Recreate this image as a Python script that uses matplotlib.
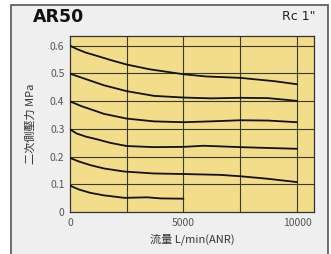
import matplotlib
matplotlib.use("Agg")
import matplotlib.pyplot as plt
from matplotlib.patches import Rectangle

plt.rcParams['font.family'] = ['Noto Sans CJK JP', 'DejaVu Sans']

flow_06 = [0, 300, 700, 1200, 1800, 2500, 3500, 5000, 6000, 7500, 9000, 10000]
pres_06 = [0.600, 0.588, 0.575, 0.563, 0.548, 0.532, 0.515, 0.497, 0.489, 0.484, 0.472, 0.461]
flow_05 = [0, 500, 1000, 1500, 2500, 3700, 5000, 6200, 7500, 8700, 10000]
pres_05 = [0.499, 0.485, 0.471, 0.457, 0.436, 0.419, 0.413, 0.410, 0.412, 0.411, 0.401]
flow_04 = [0, 500, 1000, 1500, 2500, 3700, 5000, 6200, 7500, 8700, 10000]
pres_04 = [0.399, 0.382, 0.368, 0.354, 0.337, 0.327, 0.324, 0.327, 0.331, 0.330, 0.324]
flow_03 = [0, 300, 700, 1200, 1800, 2500, 3700, 5000, 5900, 7500, 10000]
pres_03 = [0.298, 0.283, 0.272, 0.262, 0.249, 0.238, 0.234, 0.235, 0.239, 0.234, 0.228]
flow_02 = [0, 400, 900, 1500, 2400, 3700, 5000, 6600, 7500, 8700, 10000]
pres_02 = [0.195, 0.182, 0.169, 0.157, 0.146, 0.139, 0.137, 0.134, 0.129, 0.120, 0.108]
flow_01 = [0, 400, 900, 1500, 2400, 3400, 4000, 5000]
pres_01 = [0.095, 0.081, 0.069, 0.060, 0.051, 0.053, 0.049, 0.048]

series = [(flow_06, pres_06), (flow_05, pres_05), (flow_04, pres_04),
          (flow_03, pres_03), (flow_02, pres_02), (flow_01, pres_01)]

x_ticks = [0, 5000, 10000]
y_ticks = [0, 0.1, 0.2, 0.3, 0.4, 0.5, 0.6]
y_tick_labels = ['0', '0.1', '0.2', '0.3', '0.4', '0.5', '0.6']

fig = plt.figure(figsize=(3.31, 2.54), dpi=100)
fig.patch.set_facecolor('white')
fig.patches.append(Rectangle((11/331, -0.01), 317/331, (254-5)/254 + 0.01,
                             transform=fig.transFigure, facecolor='#efefef',
                             edgecolor='#555555', linewidth=1.2, zorder=-5))

ax = fig.add_axes([70/331, (254-212)/254, 244/331, 176/254])
ax.set_zorder(2)
ax.set_facecolor('#f1dd8a')
ax.set_xlim(0, 10750)
ax.set_ylim(0, 0.635)

for xv in [2500, 5000, 7500, 10000]:
    ax.axvline(xv, color='#3a3a2a', linewidth=0.8, zorder=1)
for yv in [0.1, 0.2, 0.3, 0.4, 0.5, 0.6]:
    ax.axhline(yv, color='#3a3a2a', linewidth=0.8, zorder=1)

for fx, py in series:
    ax.plot(fx, py, color='#111111', linewidth=1.3, zorder=3,
            solid_joinstyle='round', solid_capstyle='round')

ax.set_xticks(x_ticks)
ax.set_xticklabels([str(v) for v in x_ticks])
ax.set_yticks(y_ticks)
ax.set_yticklabels(y_tick_labels)
ax.tick_params(length=0, labelsize=7.5, colors='#555555', pad=4)
for s in ax.spines.values():
    s.set_color('#333333')
    s.set_linewidth(0.9)

ax.set_xlabel('流量 L/min(ANR)', fontsize=8, color='#333333', labelpad=4)
ax.set_ylabel('二次側壓力 MPa', fontsize=8, color='#333333', labelpad=10)

fig.text(33/331, 1 - 17/254, 'AR50', fontsize=12.5, fontweight='bold',
         color='#111111', va='center', ha='left', family='DejaVu Sans')
fig.text(316/331, 1 - 17/254, 'Rc 1"', fontsize=9, color='#222222',
         va='center', ha='right', family='DejaVu Sans')

fig.savefig('out.png', dpi=100, facecolor=fig.get_facecolor())
